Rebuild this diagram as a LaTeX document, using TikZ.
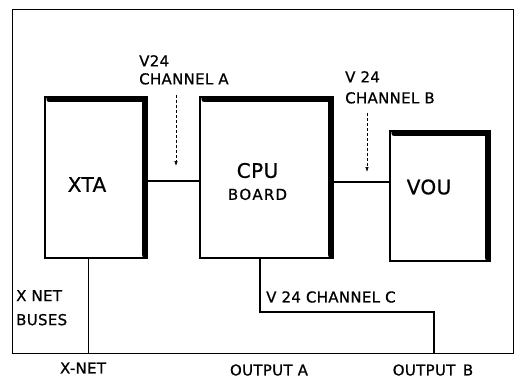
\documentclass[tikz,border=0pt]{standalone}
\usepackage{fontspec}
\setmainfont{DejaVu Sans}
\newfontfamily\lettering{DejaVu Sans}[LetterSpace=2, FakeBold=0.8]
\usetikzlibrary{positioning,calc,arrows.meta}

\begin{document}
\begin{tikzpicture}[
    x=1pt, y=-1pt,
    font=\lettering,
    frame/.style={draw, line width=0.9pt, minimum width=501pt, minimum height=344pt, inner sep=0pt},
    box/.style={draw, line width=1.3pt, inner sep=0pt, align=center},
    boxtext/.style={font=\lettering\fontsize{20}{22}\selectfont, align=center},
    rim/.style={line width=6pt, line cap=round, line join=round},
    wire/.style={line width=1.3pt},
    feed/.style={densely dashed, line width=0.6pt, -{Latex[length=5pt,width=3.5pt]}},
    lbl/.style={inner sep=0pt, align=left, font=\lettering\fontsize{15}{18}\selectfont},
]
\useasboundingbox (0,0) rectangle (523,380);

% outer frame
\node[frame] (frame) at (262.5,181) {};
\draw[line width=1.8pt] (frame.south west) -- (frame.south east);

% units
\node[box, minimum width=102pt, minimum height=161pt,
      label={[boxtext, xshift=-9pt, yshift=-7pt]center:XTA}] (xta) at (96,177.5) {};
\node[box, minimum width=133pt, minimum height=161pt,
      label={[boxtext, xshift=-9pt, yshift=-4pt]center:CPU\\[0pt]{\fontsize{15}{17}\selectfont B\kern1.2pt O\kern1.2pt A\kern1.2pt R\kern1.2pt D}}] (cpu) at (266.5,177.5) {};
\node[box, minimum width=100pt, minimum height=130pt,
      label={[boxtext, xshift=-11pt, yshift=9pt]center:VOU}] (vou) at (440,196) {};

% thick top and right edges
\draw[rim] ($(xta.north west)+(5,3)$) -- ($(xta.north east)+(-3,3)$) -- ($(xta.south east)+(-3,-4)$);
\draw[rim] ($(cpu.north west)+(5,3)$) -- ($(cpu.north east)+(-3,3)$) -- ($(cpu.south east)+(-3,-4)$);
\draw[rim] ($(vou.north west)+(5,3)$) -- ($(vou.north east)+(-3,3)$) -- ($(vou.south east)+(-3,-4)$);

% links
\draw[wire] ([yshift=-3.5pt]xta.east) -- ([yshift=-3.5pt]cpu.west);
\draw[wire] ([yshift=-4.5pt]cpu.east) coordinate (b) -- (b -| vou.west);

% channel labels
\node[lbl, anchor=north west] (chA) at (139,55) {V24\\CHANNEL A};
\node[lbl, anchor=north west] (chB) at (345,71) {V 24\\[3pt]CHANNEL B};
\coordinate (a1) at (176,95);
\coordinate (a2) at (176,166);
\coordinate (b1) at (367,113);
\coordinate (b2) at (367,172);
\draw[feed] (a1) -- (a2);
\draw[feed] (b1) -- (b2);

% buses and outputs
\draw[line width=0.9pt] ([xshift=-8pt]xta.south) -- ([xshift=-8pt]xta.south |- frame.south);
\coordinate (outB) at (434,353);
\draw[wire] ([xshift=-6.5pt]cpu.south) |- ([yshift=41pt]outB) -- (outB);
\node[lbl, anchor=west] (chC) at (266,297) {V 24 CHANNEL C};
\node[lbl, anchor=north west] (bus) at (16,290) {X NET\\[6pt]BUSES};

\node[lbl] (xnet) at (83,368) {X-NET};
\node[lbl] (oa)   at (269,370) {OUTPUT A};
\node[lbl] (ob)   at (433,370) {OUTPUT\enspace B};
\end{tikzpicture}
\end{document}
